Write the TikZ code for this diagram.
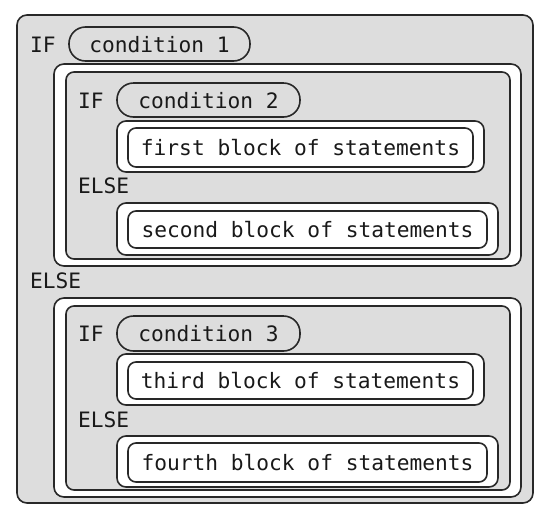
\documentclass[tikz,border=0pt]{standalone}
\usepackage{fontspec}
\setmonofont{DejaVu Sans Mono}
\definecolor{panel}{RGB}{221,221,221}
\definecolor{edge}{RGB}{40,40,40}
\definecolor{ink}{RGB}{25,25,25}
\tikzset{
  graybox/.style={draw=edge, line width=1.6pt, fill=panel, rounded corners=10pt},
  whitebox/.style={draw=edge, line width=1.6pt, fill=white, rounded corners=10pt},
  stmtbox/.style={draw=edge, line width=1.6pt, fill=white, rounded corners=8pt},
  pillbox/.style={draw=edge, line width=1.6pt, fill=panel, rounded corners=16.5pt},
  kw/.style={inner sep=0pt, anchor=base west, text=ink, font=\ttfamily\fontsize{21.2}{24}\selectfont},
  txt/.style={inner sep=0pt, anchor=base, text=ink, font=\ttfamily\fontsize{21.2}{24}\selectfont}
}
\begin{document}
\begin{tikzpicture}[x=1pt,y=-1pt]
\useasboundingbox (0,0) rectangle (546,512);
\fill[white] (0,0) rectangle (546,512);
% outer
\draw[graybox] (17,15) rectangle (533,503);
\node[kw] (if1) at (30,52) {IF};
\draw[pillbox] (69,27) rectangle (250,61);
\node[txt] (c1) at (159.5,52) {condition 1};
% nest 1
\draw[whitebox] (54,64) rectangle (521,266);
\draw[graybox, rounded corners=8pt] (66,72) rectangle (510,259);
\node[kw] (if2) at (78,108.5) {IF};
\draw[pillbox] (117,83) rectangle (300,117);
\node[txt] (c2) at (208.5,108.5) {condition 2};
\draw[stmtbox, rounded corners=9pt] (117,121) rectangle (484,172);
\draw[stmtbox] (128,128) rectangle (473,167);
\node[txt] (s1) at (300.5,155) {first block of statements};
\node[kw] (else2) at (78,193) {ELSE};
\draw[stmtbox, rounded corners=9pt] (117,203) rectangle (498,255);
\draw[stmtbox] (128,211) rectangle (487,248);
\node[txt] (s2) at (307.5,237) {second block of statements};
% else 1
\node[kw] (else1) at (30,288) {ELSE};
% nest 2
\draw[whitebox] (54,298) rectangle (521,497);
\draw[graybox, rounded corners=8pt] (66,306) rectangle (510,490);
\node[kw] (if3) at (78,341) {IF};
\draw[pillbox] (117,316) rectangle (300,351);
\node[txt] (c3) at (208.5,341) {condition 3};
\draw[stmtbox, rounded corners=9pt] (117,354) rectangle (484,405);
\draw[stmtbox] (128,362) rectangle (473,399);
\node[txt] (s3) at (300.5,388) {third block of statements};
\node[kw] (else3) at (78,427) {ELSE};
\draw[stmtbox, rounded corners=9pt] (117,436) rectangle (498,487);
\draw[stmtbox] (128,443) rectangle (487,482);
\node[txt] (s4) at (307.5,470) {fourth block of statements};
\end{tikzpicture}
\end{document}
